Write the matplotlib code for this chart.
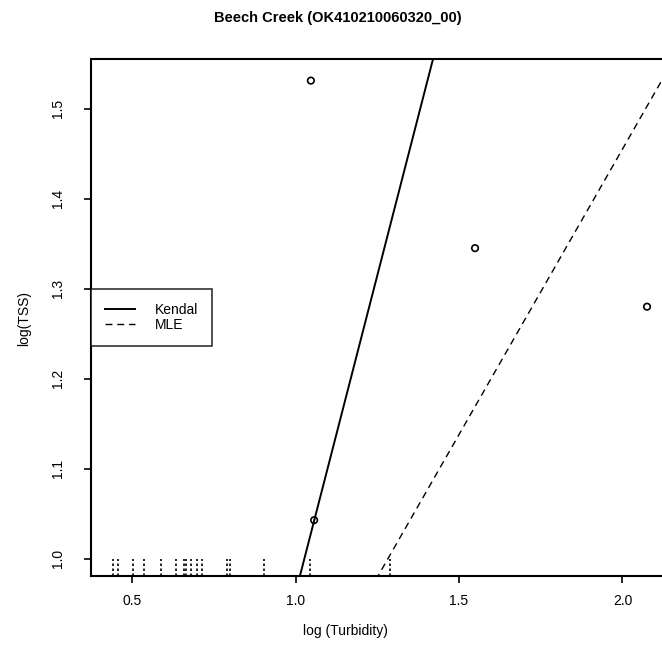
import matplotlib
matplotlib.use("Agg")
import matplotlib.pyplot as plt
import numpy as np

plt.rcParams['font.family'] = ['Liberation Sans', 'DejaVu Sans']

# detected observations (log10 turbidity, log10 TSS)
det_x = [1.047, 1.549, 2.075, 1.057]
det_y = [1.531, 1.345, 1.280, 1.043]

# censored observations (TSS below detection limit)
cens_x = [0.443, 0.457, 0.504, 0.538, 0.589, 0.634, 0.659, 0.665, 0.680,
          0.698, 0.715, 0.792, 0.799, 0.904, 1.044, 1.289]
detection_limit = 1.0

# fitted lines: (intercept, slope)
kendal = (-0.448, 1.41)
mle = (0.187, 0.634)

xticks = [0.5, 1.0, 1.5, 2.0]
yticks = [1.0, 1.1, 1.2, 1.3, 1.4, 1.5]

fig = plt.figure(figsize=(6.62, 6.61), dpi=100)
ax = fig.add_axes([91 / 662, 85 / 661, 574 / 662, 517 / 661])
ax.set_xlim(0.3746, 2.130)
ax.set_ylim(0.981, 1.555)

ylo = ax.get_ylim()[0]
ax.vlines(cens_x, ylo, detection_limit, colors='black', linewidth=1.2,
          linestyles=(0, (1.5, 1.5)))

ax.scatter(det_x, det_y, s=22, facecolors='none', edgecolors='black',
           linewidths=1.2, zorder=3)

xs = np.array(ax.get_xlim())
ax.plot(xs, kendal[0] + kendal[1] * xs, color='black', lw=1.4, label='Kendal')
ax.plot(xs, mle[0] + mle[1] * xs, color='black', lw=1.0,
        dashes=(5, 3.5), label='MLE')

ax.set_xticks(xticks)
ax.set_xticklabels(['0.5', '1.0', '1.5', '2.0'])
ax.set_yticks(yticks)
ax.set_yticklabels(['1.0', '1.1', '1.2', '1.3', '1.4', '1.5'],
                   rotation=90, va='center')
ax.tick_params(direction='out', length=5, width=1.2, labelsize=10,
               pad=8, colors='black')
ax.tick_params(axis='y', pad=14)

for sp in ax.spines.values():
    sp.set_linewidth(1.5)

leg = ax.legend(loc='center left', bbox_to_anchor=(0, 0.5), fontsize=10,
                frameon=True, fancybox=False, borderaxespad=0,
                handlelength=2.2, handletextpad=1.4, labelspacing=0.1,
                borderpad=1.0)
leg.get_frame().set_edgecolor('black')
leg.get_frame().set_linewidth(1.2)

fig.text(338 / 662, 1 - 18 / 661, 'Beech Creek (OK410210060320_00)',
         ha='center', va='center', fontsize=10.5, fontweight='bold')
fig.text(345 / 662, 1 - 631 / 661, 'log (Turbidity)', ha='center',
         va='center', fontsize=10)
fig.text(24 / 662, 1 - 318 / 661, 'log(TSS)', ha='center', va='center',
         rotation=90, fontsize=10)

fig.savefig('out.png', dpi=100)
